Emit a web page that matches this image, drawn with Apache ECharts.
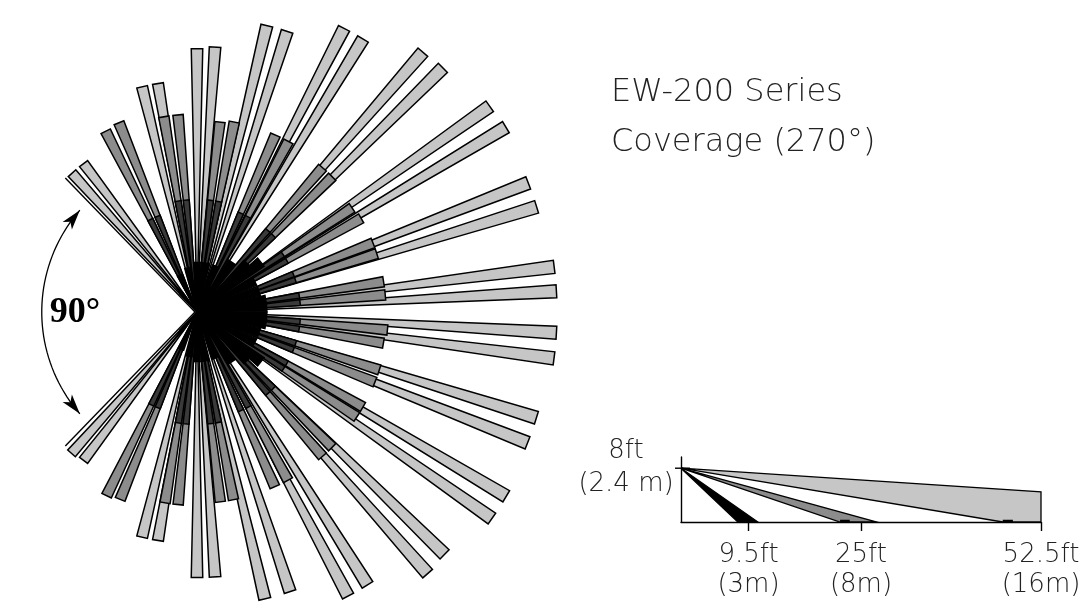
<!DOCTYPE html>
<html><head><meta charset="utf-8">
<style>html,body{margin:0;padding:0;background:#fff}#c{width:1079px;height:606px}</style>
<script src="https://cdn.jsdelivr.net/npm/echarts@6/dist/echarts.min.js"></script>
</head><body><div id="c"></div>
<script>
// Plan view: bearing in degrees clockwise from straight up, range in metres
const farBearing = [318,322.6,346.3,350.3,0,3.9,13.7,17.8,27.4,31.3,41,45.2,54.9,59.1,68.7,72.8,82.8,86.7,93.3,97.4,107.3,111.6,120.8,125,134.4,138.6,148,152,161.6,166.7,176.1,180,189.7,193.7,217.4,221.6];
const farRange = [8.3,8.3,10.3,10.3,11.7,11.8,13.1,13.1,14.2,14.2,15.3,15.4,15.9,16,15.8,15.8,16,16,16,16,15.8,15.8,16,16,15.4,15.5,14.3,14.3,13.1,13.1,11.8,11.8,10.3,10.3,8.3,8.4];
const midBearing = [333.2,337.6,350.35,354.5,6.9,11.1,23.9,28.2,41,45,56.1,60.3,68.6,72,80.8,84.8,95.4,99.5,107.6,111.5,119.8,123.3,135,139,151.6,156,169,173,185.6,189.5,202.3,206.2];
const midRange = [9,9.1,8.8,8.8,8.5,8.6,8.6,8.6,8.5,8.5,8.3,8.4,8.4,8.4,8.4,8.4,8.5,8.4,8.5,8.5,8.5,8.5,8.5,8.5,8.5,8.5,8.5,8.5,8.6,8.6,9,9.1];
const innerRange = [4.6,4.6,5,5,5,5,4.8,4.8,4.8,4.8,4.6,4.6,4.6,4.6,4.6,4.6,4.6,4.6,4.6,4.6,4.6,4.6,4.8,4.8,4.8,4.8,5,5,5,5,4.6,4.6];
const nearBearing = [320,335,348,0,10,22,35,46,52,62,72,80,86,94,100,108,118,128,134,145,158,170,180,190,203,220];
const nearRange = [1.1,1.8,2,2.2,2.2,2.2,2.7,3.1,3.6,2.9,2.9,3.1,3.1,3.1,3.1,2.9,2.9,3.6,3.1,2.7,2.2,2.2,2.2,2,1.8,1.1];
const wedgeEdges = [[8.35,315.5],[8.35,224.5]];
const sweepBearing = [229,311];
const sweepRange = 6.9;

// Side view: distance along the floor in metres, mounting height in metres
const sideTicks = [3,8,16];
const sideTickLabels = ['9.5ft\n(3m)','25ft\n(8m)','52.5ft\n(16m)'];
const mountHeight = 2.4;
const sideFarBeam = [[14.3,0],[16,0],[16,1.35]];
const sideMidBeam = [[7.07,0],[8.71,0]];
const sideNearBeam = [[2.53,0],[3.42,0]];
const sideFootprints = [[14.3,14.75],[7.07,7.5]];

const LIGHT='#c6c6c6', MID='#8c8c8c', DARK='#3a3a3a', INK='#000';
const FONT='"DejaVu Sans"';

function beam(fill,refLen){
  return function(params,api){
    const r=api.value(0), b=api.value(1);
    const o=api.coord([0,b]), t=api.coord([r,b]);
    const dx=t[0]-o[0], dy=t[1]-o[1], L=Math.hypot(dx,dy);
    const nx=-dy/L, ny=dx/L;
    const w=refLen ? (7+refLen*0.017)/2*L/refLen : (7+L*0.017)/2;
    return {type:'polygon',shape:{points:[o,[t[0]+nx*w,t[1]+ny*w],[t[0]-nx*w,t[1]-ny*w]]},
      style:{fill:fill,stroke:INK,lineWidth:1.5}};
  };
}
function planSeries(bearing,range,fill,z,refLen){
  return {type:'custom',coordinateSystem:'polar',polarIndex:0,z:z,silent:true,clip:false,
    data:bearing.map((b,i)=>[range[i],b]),encode:{radius:0,angle:1},renderItem:beam(fill,refLen)};
}
function sidePoly(points,fill,z){
  return {type:'custom',coordinateSystem:'cartesian2d',xAxisIndex:0,yAxisIndex:0,z:z,silent:true,clip:false,
    data:[[0]],
    renderItem:function(p,api){
      const pts=[api.coord([0,mountHeight])].concat(points.map(q=>api.coord(q)));
      return {type:'polygon',shape:{points:pts},style:{fill:fill,stroke:INK,lineWidth:1.3}};
    }};
}
const option={
  animation:false,backgroundColor:'#fff',
  title:{text:'EW-200 Series\nCoverage (270°)',left:611,top:68,padding:0,
    textStyle:{fontFamily:FONT,fontWeight:200,fontSize:32,lineHeight:50,color:'#222'}},
  polar:{center:[197,312],radius:360},
  radiusAxis:{min:0,max:16,show:false},
  angleAxis:{min:0,max:360,startAngle:90,show:false},
  grid:{left:681,top:457,width:360,height:65,containLabel:false,outerBoundsMode:'none'},
  xAxis:{type:'value',min:0,max:16,splitLine:{show:false},
    axisLine:{show:true,lineStyle:{color:INK,width:1.4}},
    axisTick:{show:true,length:9,inside:false,customValues:sideTicks,lineStyle:{color:INK,width:1.4}},
    axisLabel:{show:true,margin:18,customValues:sideTicks,
      formatter:v=>sideTickLabels[sideTicks.indexOf(v)],
      fontFamily:FONT,fontWeight:200,fontSize:26,lineHeight:30,color:'#222',align:'center',hideOverlap:false}},
  yAxis:{type:'value',min:0,max:2.9,splitLine:{show:false},
    axisLine:{show:true,onZero:false,lineStyle:{color:INK,width:1.4}},
    axisTick:{show:false},
    axisLabel:{show:true,margin:55,customValues:[mountHeight],formatter:()=>'8ft\n(2.4 m)',
      fontFamily:FONT,fontWeight:200,fontSize:26,lineHeight:33,color:'#222',align:'center',verticalAlign:'middle',padding:[32,0,0,0]}},
  series:[
    planSeries(farBearing,farRange,LIGHT,2),
    planSeries(midBearing,midRange,MID,3),
    planSeries(midBearing,innerRange,DARK,3.5,190),
    planSeries(nearBearing,nearRange,INK,4,62),
    {type:'custom',coordinateSystem:'polar',polarIndex:0,z:5,silent:true,clip:false,
      data:wedgeEdges,encode:{radius:0,angle:1},
      renderItem:function(p,api){
        const a=api.coord([0,api.value(1)]), b=api.coord([api.value(0),api.value(1)]);
        return {type:'line',shape:{x1:a[0]-2,y1:a[1],x2:b[0],y2:b[1]},style:{stroke:INK,lineWidth:1.4}};
      }},
    {type:'custom',coordinateSystem:'polar',polarIndex:0,z:6,silent:true,clip:false,
      data:[[sweepRange,sweepBearing[0],sweepBearing[1]]],
      renderItem:function(p,api){
        const r=api.value(0), b0=api.value(1), b1=api.value(2), pts=[];
        for(let b=b0;b<=b1;b+=2) pts.push(api.coord([r,b]));
        const head=(tip,prev)=>{
          const dx=tip[0]-prev[0], dy=tip[1]-prev[1], L=Math.hypot(dx,dy), ux=dx/L, uy=dy/L;
          return {type:'polygon',shape:{points:[tip,[tip[0]-ux*20-uy*6,tip[1]-uy*20+ux*6],[tip[0]-ux*15,tip[1]-uy*15],[tip[0]-ux*20+uy*6,tip[1]-uy*20-ux*6]]},style:{fill:INK}};
        };
        const c=api.coord([r,270]);
        return {type:'group',children:[
          {type:'polyline',shape:{points:pts},style:{fill:'none',stroke:INK,lineWidth:1.3}},
          head(pts[0],pts[2]),head(pts[pts.length-1],pts[pts.length-3]),
          {type:'text',x:c[0]+8,y:c[1]+1,style:{text:'90°',fontFamily:'"Liberation Serif"',fontWeight:'bold',fontSize:36,fill:INK,verticalAlign:'middle'}}
        ]};
      }},
    sidePoly(sideFarBeam,LIGHT,2),
    sidePoly(sideMidBeam,MID,3),
    sidePoly(sideNearBeam,INK,4),
    {type:'custom',coordinateSystem:'cartesian2d',xAxisIndex:0,yAxisIndex:0,z:5,silent:true,clip:false,
      data:sideFootprints,
      renderItem:function(p,api){
        const a=api.coord([api.value(0),0]), b=api.coord([api.value(1),0]);
        return {type:'line',shape:{x1:a[0],y1:a[1]-1,x2:b[0],y2:b[1]-1},style:{stroke:INK,lineWidth:2.5}};
      }},
    {type:'custom',coordinateSystem:'cartesian2d',xAxisIndex:0,yAxisIndex:0,z:5,silent:true,clip:false,
      data:[[mountHeight]],
      renderItem:function(p,api){
        const a=api.coord([0,api.value(0)]);
        return {type:'line',shape:{x1:a[0]-6,y1:a[1],x2:a[0]+9,y2:a[1]},style:{stroke:INK,lineWidth:1.4}};
      }}
  ]
};
const chart=echarts.init(document.getElementById('c'),null,{renderer:'canvas'});
chart.setOption(option);
</script></body></html>
